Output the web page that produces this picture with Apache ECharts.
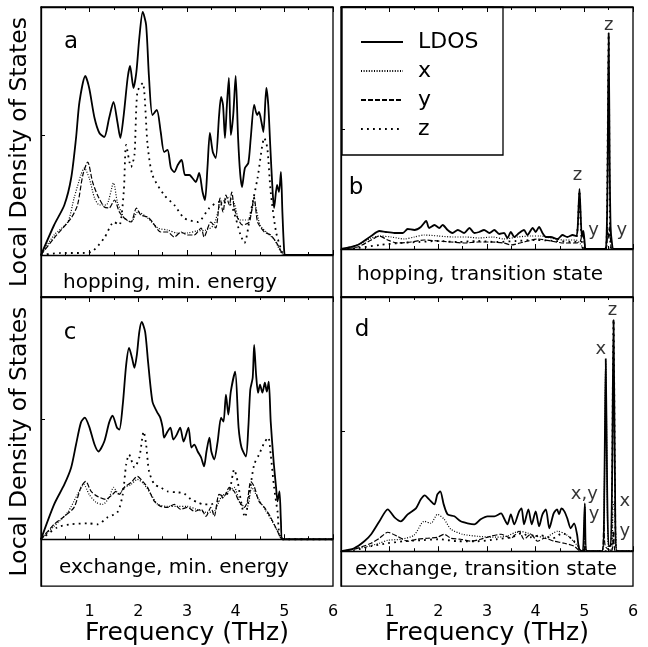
<!DOCTYPE html>
<html>
<head>
<meta charset="utf-8">
<script src="https://cdn.jsdelivr.net/npm/echarts@6/dist/echarts.min.js"></script>
<style>
  html, body { margin: 0; padding: 0; background: #fff; }
  #ldos { width: 648px; height: 647px; }
</style>
</head>
<body>
<div id="ldos"></div>
<script>
// frequency ticks (THz)
var freqTicks = [1, 2, 3, 4, 5, 6];

// a: hopping, min. energy  -- [THz, LDOS]
var ldosA = [[0,0],[0.27,30],[0.48,50],[0.62,77],[0.72,117],[0.79,153],[0.91,179],[0.99,167],[1.10,137],[1.20,122],[1.30,118],[1.40,137],[1.49,153],[1.57,133],[1.63,117],[1.70,140],[1.78,177],[1.83,189],[1.90,167],[1.96,183],[2.02,217],[2.09,243],[2.16,230],[2.22,177],[2.29,140],[2.38,145],[2.46,123],[2.53,103],[2.60,105],[2.67,87],[2.74,83],[2.81,90],[2.89,95],[2.96,80],[3.05,80],[3.11,77],[3.18,73],[3.25,82],[3.32,63],[3.37,55],[3.42,87],[3.47,122],[3.53,103],[3.59,97],[3.66,140],[3.70,158],[3.74,150],[3.78,117],[3.82,150],[3.86,177],[3.90,120],[3.95,140],[4.00,179],[4.05,117],[4.09,83],[4.13,68],[4.19,87],[4.26,92],[4.31,117],[4.38,150],[4.44,140],[4.48,143],[4.53,133],[4.57,123],[4.63,167],[4.67,150],[4.71,110],[4.76,63],[4.79,47],[4.85,70],[4.89,63],[4.93,83],[4.96,43],[5.00,2],[5.03,0],[6,0]];
var xA = [[0,0],[0.27,20],[0.55,33],[0.68,57],[0.82,80],[0.89,87],[0.99,77],[1.10,57],[1.20,50],[1.34,50],[1.49,72],[1.57,53],[1.71,37],[1.85,33],[1.99,43],[2.19,37],[2.40,27],[2.60,25],[2.80,22],[3.00,22],[3.20,24],[3.40,25],[3.55,30],[3.68,50],[3.78,55],[3.88,58],[3.97,52],[4.08,35],[4.25,35],[4.38,52],[4.50,30],[4.65,22],[4.80,15],[5.00,0],[6,0]];
var yA = [[0,0],[0.27,17],[0.62,37],[0.75,50],[0.86,80],[0.96,93],[1.06,73],[1.16,60],[1.30,48],[1.40,47],[1.51,55],[1.61,43],[1.71,37],[1.85,33],[1.96,47],[2.05,40],[2.19,38],[2.29,33],[2.46,23],[2.60,23],[2.74,18],[2.88,23],[3.01,20],[3.15,20],[3.29,27],[3.35,18],[3.49,33],[3.59,27],[3.68,57],[3.74,43],[3.80,60],[3.87,50],[3.92,63],[3.97,47],[4.04,37],[4.14,30],[4.28,33],[4.38,58],[4.45,33],[4.59,23],[4.72,20],[4.83,13],[4.89,8],[5.00,0],[6,0]];
var zA = [[0,0],[0.40,2],[0.80,2],[1.03,3],[1.30,17],[1.50,33],[1.61,30],[1.70,63],[1.75,110],[1.85,88],[1.92,100],[1.98,163],[2.09,172],[2.19,110],[2.29,80],[2.53,60],[2.74,50],[2.94,37],[3.22,33],[3.46,47],[3.66,53],[3.90,50],[4.10,20],[4.18,12],[4.31,43],[4.45,77],[4.59,117],[4.65,107],[4.72,63],[4.83,23],[4.96,2],[5.00,0],[6,0]];

// b: hopping, transition state
var ldosB = [[0,0],[0.34,4],[0.62,13],[0.79,18],[0.92,17],[1.10,16],[1.27,16],[1.37,20],[1.51,19],[1.64,22],[1.75,28],[1.81,21],[1.92,24],[2.02,21],[2.09,24],[2.19,19],[2.29,16],[2.40,19],[2.53,16],[2.64,21],[2.74,16],[2.84,17],[2.94,19],[3.05,16],[3.15,19],[3.25,15],[3.35,16],[3.42,11],[3.49,17],[3.56,12],[3.66,16],[3.76,19],[3.83,14],[3.94,21],[4.00,17],[4.07,22],[4.14,16],[4.21,12],[4.31,12],[4.45,10],[4.55,14],[4.65,12],[4.76,14],[4.83,13],[4.86,19],[4.88,40],[4.90,60],[4.92,40],[4.95,12],[4.98,18],[5.01,5],[5.03,0],[5.42,0],[5.46,18],[5.48,90],[5.50,216],[5.52,90],[5.54,22],[5.57,5],[5.60,0],[6,0]];
var xB = [[0,0],[0.34,4],[0.62,11],[0.79,13],[1.03,12],[1.30,10],[1.51,12],[1.71,14],[2.00,13],[2.30,12],[2.57,12],[2.84,11],[3.12,12],[3.35,10],[3.63,12],[3.90,13],[4.10,13],[4.31,11],[4.58,9],[4.83,9],[4.92,5],[5.00,0],[6,0]];
var yB = [[0,0],[0.34,2],[0.62,9],[0.79,13],[0.96,9],[1.16,6],[1.44,7],[1.71,9],[1.99,8],[2.26,7],[2.53,6],[2.81,7],[3.08,7],[3.35,6],[3.49,4],[3.76,7],[4.04,10],[4.31,8],[4.58,6],[4.83,6],[4.92,8],[4.96,18],[5.00,6],[5.04,0],[5.44,0],[5.48,22],[5.50,10],[5.53,25],[5.56,0],[6,0]];
var zB = [[0,0],[0.34,1],[0.80,4],[1.20,6],[1.60,7],[2.00,8],[2.40,7],[2.80,8],[3.20,7],[3.60,8],[4.00,9],[4.40,8],[4.80,7],[4.86,20],[4.90,58],[4.93,20],[4.96,2],[5.00,0],[5.44,0],[5.47,60],[5.50,214],[5.52,60],[5.55,0],[6,0]];

// c: exchange, min. energy
var ldosC = [[0,0],[0.27,35],[0.48,55],[0.62,72],[0.72,95],[0.82,117],[0.90,122],[0.99,113],[1.10,95],[1.18,88],[1.30,98],[1.40,117],[1.47,124],[1.56,112],[1.61,110],[1.68,135],[1.75,175],[1.81,192],[1.87,182],[1.92,172],[1.97,185],[2.02,208],[2.07,218],[2.14,208],[2.20,178],[2.29,138],[2.38,128],[2.45,122],[2.50,112],[2.53,102],[2.60,108],[2.66,112],[2.72,100],[2.79,105],[2.86,112],[2.93,98],[3.03,112],[3.09,92],[3.15,95],[3.22,88],[3.29,82],[3.35,73],[3.40,88],[3.46,102],[3.50,88],[3.56,80],[3.63,98],[3.70,122],[3.75,118],[3.80,145],[3.85,125],[3.90,148],[3.99,168],[4.06,112],[4.12,92],[4.21,83],[4.26,112],[4.30,150],[4.35,162],[4.38,195],[4.42,165],[4.46,147],[4.50,155],[4.55,147],[4.60,157],[4.64,148],[4.68,158],[4.72,118],[4.78,78],[4.83,52],[4.86,38],[4.90,48],[4.93,18],[4.96,0],[6,0]];
var xC = [[0,0],[0.27,13],[0.55,27],[0.75,45],[0.88,55],[0.99,45],[1.13,37],[1.27,35],[1.40,42],[1.49,52],[1.60,45],[1.71,52],[1.85,55],[1.98,60],[2.12,55],[2.26,45],[2.40,35],[2.60,33],[2.80,33],[3.00,33],[3.20,30],[3.40,27],[3.56,28],[3.70,42],[3.85,48],[3.97,52],[4.10,35],[4.24,33],[4.33,52],[4.45,42],[4.60,30],[4.75,18],[4.90,5],[5.00,0],[6,0]];
var yC = [[0,0],[0.27,15],[0.48,23],[0.68,32],[0.82,52],[0.92,58],[1.03,48],[1.16,43],[1.33,40],[1.47,45],[1.54,48],[1.61,45],[1.71,52],[1.85,57],[1.98,63],[2.09,58],[2.19,52],[2.33,38],[2.46,33],[2.60,32],[2.74,35],[2.87,30],[3.01,32],[3.15,28],[3.29,30],[3.39,23],[3.49,32],[3.56,23],[3.66,45],[3.76,43],[3.87,52],[3.97,48],[4.07,38],[4.18,32],[4.24,38],[4.31,58],[4.38,53],[4.48,38],[4.59,32],[4.72,22],[4.86,8],[4.96,0],[6,0]];
var zC = [[0,0],[0.34,12],[0.62,15],[0.96,16],[1.16,15],[1.37,22],[1.57,27],[1.68,45],[1.75,75],[1.81,85],[1.92,72],[2.02,82],[2.11,108],[2.16,95],[2.22,68],[2.33,55],[2.46,52],[2.60,48],[2.81,47],[2.94,46],[3.08,40],[3.22,37],[3.35,35],[3.49,35],[3.63,38],[3.76,43],[3.87,48],[3.97,70],[4.04,58],[4.11,38],[4.19,22],[4.28,45],[4.38,75],[4.48,85],[4.59,97],[4.67,102],[4.72,85],[4.79,52],[4.86,28],[4.96,0],[6,0]];

// d: exchange, transition state
var ldosD = [[0,0],[0.27,3],[0.48,10],[0.62,17],[0.79,30],[0.96,42],[1.10,34],[1.23,30],[1.37,37],[1.54,43],[1.64,52],[1.72,56],[1.81,52],[1.92,47],[1.98,57],[2.04,60],[2.11,47],[2.19,37],[2.33,35],[2.46,30],[2.60,28],[2.74,27],[2.87,32],[3.01,35],[3.15,35],[3.29,38],[3.35,33],[3.42,27],[3.49,37],[3.56,27],[3.66,40],[3.71,43],[3.76,27],[3.85,42],[3.92,27],[4.00,40],[4.07,25],[4.14,37],[4.21,42],[4.28,23],[4.37,38],[4.44,42],[4.48,37],[4.53,43],[4.59,40],[4.65,33],[4.72,23],[4.79,28],[4.85,17],[4.89,3],[4.94,0],[4.97,0],[5.01,48],[5.05,0],[5.37,0],[5.41,60],[5.44,193],[5.47,60],[5.50,5],[5.54,5],[5.57,70],[5.60,232],[5.63,70],[5.67,0],[6,0]];
var xD = [[0,0],[0.48,4],[0.79,8],[0.96,11],[1.23,12],[1.50,16],[1.71,30],[1.85,28],[1.98,37],[2.12,32],[2.26,22],[2.50,17],[2.80,15],[3.10,14],[3.40,15],[3.66,20],[3.85,18],[4.00,15],[4.20,14],[4.45,20],[4.65,16],[4.85,6],[4.95,0],[4.98,0],[5.01,45],[5.04,0],[5.38,0],[5.41,60],[5.44,190],[5.47,60],[5.50,0],[5.56,0],[5.59,45],[5.62,50],[5.65,10],[5.68,0],[6,0]];
var yD = [[0,0],[0.27,2],[0.62,8],[0.79,13],[0.96,19],[1.16,15],[1.37,10],[1.57,12],[1.78,13],[1.98,14],[2.12,17],[2.26,13],[2.46,12],[2.67,10],[2.87,12],[3.08,15],[3.29,17],[3.49,13],[3.66,20],[3.76,12],[3.90,17],[4.04,10],[4.18,13],[4.38,10],[4.59,8],[4.79,5],[4.93,0],[4.98,0],[5.01,40],[5.04,0],[5.36,0],[5.40,30],[5.43,5],[5.56,0],[5.60,20],[5.64,0],[6,0]];
var zD = [[0,0],[0.27,1],[0.62,5],[0.96,8],[1.30,10],[1.64,11],[2.00,12],[2.40,10],[2.80,10],[3.20,12],[3.50,14],[3.72,18],[3.90,14],[4.10,16],[4.35,13],[4.55,18],[4.75,12],[4.90,4],[4.96,0],[5.54,0],[5.57,70],[5.60,232],[5.63,70],[5.66,0],[6,0]];

// peak labels
var notesB = [{name:'z', value:[4.86,74]}, {name:'y', value:[5.19,19]}, {name:'z', value:[5.50,224]}, {name:'y', value:[5.77,19]}];
var notesD = [{name:'x,y', value:[5.00,57]}, {name:'y', value:[5.20,37]}, {name:'x', value:[5.34,203]}, {name:'z', value:[5.58,242]}, {name:'x', value:[5.83,50]}, {name:'y', value:[5.83,20]}];

var font = 'DejaVu Sans';
var panels = [
  { left: 41,  top: 7,   yMin: -42, yMax: 248, data: [ldosA, xA, yA, zA], bottom: false },
  { left: 341, top: 7,   yMin: -48, yMax: 242, data: [ldosB, xB, yB, zB], bottom: false },
  { left: 41,  top: 297, yMin: -47, yMax: 243, data: [ldosC, xC, yC, zC], bottom: true },
  { left: 341, top: 297, yMin: -35, yMax: 255, data: [ldosD, xD, yD, zD], bottom: true }
];
var names = ['LDOS', 'x', 'y', 'z'];
var styles = {
  LDOS: { type: 'solid', width: 1.8 },
  x: { type: [1, 1.6], width: 1.2 },
  y: { type: [5, 2], width: 1.2 },
  z: { type: [1.8, 4.2], width: 1.8 }
};

var grids = [], xAxes = [], yAxes = [], series = [];
panels.forEach(function (p, i) {
  grids.push({ left: p.left, top: p.top, width: 292, height: 290, show: true, borderColor: '#000', borderWidth: 1.3 });
  xAxes.push({
    type: 'value', gridIndex: i, min: 0, max: 6, interval: 1, position: 'bottom',
    axisLine: { lineStyle: { color: '#000', width: 1.3 } },
    axisTick: { inside: true, length: 5, lineStyle: { color: '#000' } },
    minorTick: { show: true, splitNumber: 2, length: 3, lineStyle: { color: '#000' } },
    splitLine: { show: false },
    axisLabel: {
      show: p.bottom, margin: 18, fontSize: 16, color: '#000', fontFamily: font,
      formatter: function (v) { return freqTicks.indexOf(v) >= 0 ? String(v) : ''; }
    },
    name: p.bottom ? 'Frequency (THz)' : '', nameLocation: 'middle', nameGap: 33,
    nameTextStyle: { fontSize: 25, color: '#000', fontFamily: font }
  });
  yAxes.push({
    type: 'value', gridIndex: i, min: p.yMin, max: p.yMax,
    axisLine: { show: true, lineStyle: { color: '#000', width: 1.3 } },
    axisTick: { show: true, inside: true, length: 4, customValues: [120], lineStyle: { color: '#000' } },
    axisLabel: { show: false }, splitLine: { show: false },
    name: (i % 2 === 0) ? 'Local Density of States' : '', nameLocation: 'middle', nameGap: 9,
    nameTextStyle: { fontSize: 23.5, color: '#000', fontFamily: font }
  });
  p.data.forEach(function (d, k) {
    series.push({
      name: names[k], type: 'line', xAxisIndex: i, yAxisIndex: i, data: d,
      symbol: 'none', silent: true, z: k === 0 ? 4 : 3, smooth: 0.25,
      itemStyle: { color: '#000' },
      lineStyle: Object.assign({ color: '#000' }, styles[names[k]])
    });
  });
});
// top axes carrying the inner ticks
panels.forEach(function (p, i) {
  xAxes.push({
    type: 'value', gridIndex: i, min: 0, max: 6, interval: 1, position: 'top',
    axisLine: { lineStyle: { color: '#000', width: 1.3 } },
    axisTick: { inside: true, length: 5, lineStyle: { color: '#000' } },
    minorTick: { show: true, splitNumber: 2, length: 3, lineStyle: { color: '#000' } },
    splitLine: { show: false }, axisLabel: { show: false }
  });
});

function notes(arr, g) {
  return {
    type: 'scatter', xAxisIndex: g, yAxisIndex: g, data: arr, symbolSize: 1, silent: true,
    itemStyle: { color: 'rgba(0,0,0,0)' },
    label: { show: true, position: 'inside', formatter: '{b}', fontSize: 18, color: '#000', fontFamily: font }
  };
}
series.push(notes(notesB, 1));
series.push(notes(notesD, 3));

function txt(x, y, s, size, align) {
  return { type: 'text', x: x, y: y, silent: true,
    style: { text: s, fontSize: size, fontFamily: font, fill: '#000', textAlign: align || 'center', textVerticalAlign: 'middle' } };
}

var chart = echarts.init(document.getElementById('ldos'));
chart.setOption({
  animation: false,
  backgroundColor: '#fff',
  grid: grids,
  xAxis: xAxes,
  yAxis: yAxes,
  legend: {
    data: names, orient: 'vertical', left: 342, top: 7,
    padding: [24, 10, 16, 18], itemWidth: 42, itemHeight: 14, itemGap: 7,
    itemStyle: { opacity: 0 },
    textStyle: { fontSize: 22, lineHeight: 22, color: '#000', fontFamily: font, padding: [0, 0, 0, 10] },
    selectedMode: false
  },
  graphic: [
    { type: 'rect', shape: { x: 342, y: 7, width: 161, height: 148 }, silent: true,
      style: { fill: 'none', stroke: '#000', lineWidth: 1.3 } },
    txt(71, 42, 'a', 23), txt(356, 188, 'b', 23), txt(70, 333, 'c', 23), txt(362, 330, 'd', 23),
    txt(170, 283, 'hopping, min. energy', 20),
    txt(480, 275, 'hopping, transition state', 20),
    txt(174, 568, 'exchange, min. energy', 20),
    txt(486, 570, 'exchange, transition state', 20)
  ],
  series: series
});
</script>
</body>
</html>
